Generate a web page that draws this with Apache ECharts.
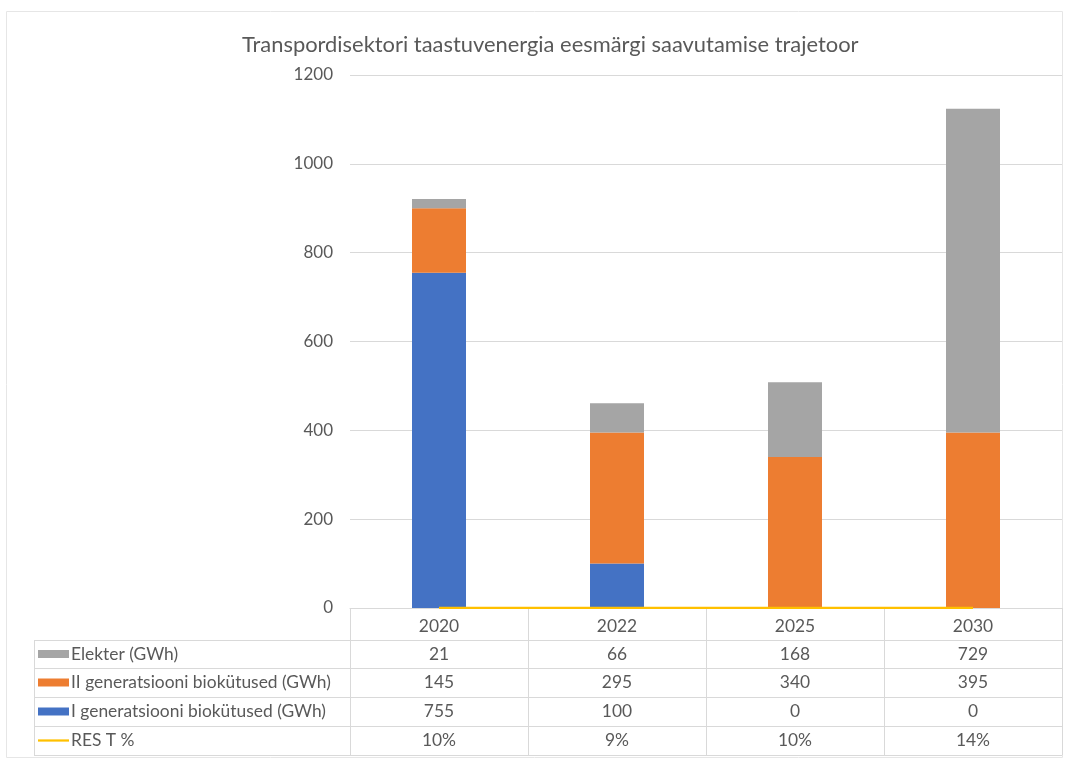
<!DOCTYPE html>
<html>
<head>
<meta charset="utf-8">
<script src="https://cdn.jsdelivr.net/npm/echarts@6/dist/echarts.min.js"></script>
<style>
  html, body { margin: 0; padding: 0; background: #fff; }
  #chart { width: 1065px; height: 759px; }
</style>
</head>
<body>
<div id="chart"></div>
<script>
const years = ['2020', '2022', '2025', '2030'];
const elekter = [21, 66, 168, 729];
const bioII = [145, 295, 340, 395];
const bioI = [755, 100, 0, 0];
const resT = [10, 9, 10, 14];   // percent
const yTicks = [0, 200, 400, 600, 800, 1000, 1200];

const FONT = 'Lato, "Liberation Sans", sans-serif';
const TXT = '#595959';
const LINE = '#D9D9D9';

const rows = [
  { name: 'Elekter (GWh)', color: '#A5A5A5', kind: 'bar', values: elekter, fmt: v => String(v) },
  { name: 'II generatsiooni biokütused (GWh)', color: '#ED7D31', kind: 'bar', values: bioII, fmt: v => String(v) },
  { name: 'I generatsiooni biokütused (GWh)', color: '#4472C4', kind: 'bar', values: bioI, fmt: v => String(v) },
  { name: 'RES T %', color: '#FFC000', kind: 'line', values: resT, fmt: v => v + '%' }
];

const gridLeft = 350, gridRight = 1062, gridTop = 75, gridBottom = 608;
const rowLines = [640, 668, 697, 726, 755];
const tableLeft = 34;
const FS = 17.4;

const chart = echarts.init(document.getElementById('chart'));

const option = {
  animation: false,
  title: {
    text: 'Transpordisektori taastuvenergia eesmärgi saavutamise trajetoor',
    left: 237,
    top: 29,
    textStyle: { fontFamily: FONT, fontSize: 21.9, fontWeight: 'normal', color: TXT }
  },
  grid: { left: gridLeft, right: 1065 - gridRight, top: gridTop, bottom: 759 - gridBottom },
  xAxis: {
    type: 'category',
    data: years,
    axisLine: { lineStyle: { color: LINE } },
    axisTick: { show: true, length: 755 - gridBottom, lineStyle: { color: LINE } },
    axisLabel: { fontFamily: FONT, fontSize: FS, color: TXT, margin: 10 }
  },
  yAxis: {
    type: 'value',
    min: yTicks[0],
    max: yTicks[yTicks.length - 1],
    interval: yTicks[1] - yTicks[0],
    axisLine: { show: false },
    axisTick: { show: false },
    splitLine: { lineStyle: { color: LINE } },
    axisLabel: { fontFamily: FONT, fontSize: 17, color: TXT, margin: 17, formatter: v => String(v) }
  },
  series: [
    { name: rows[2].name, type: 'bar', stack: 'a', data: bioI, barWidth: 54, itemStyle: { color: rows[2].color } },
    { name: rows[1].name, type: 'bar', stack: 'a', data: bioII, barWidth: 54, itemStyle: { color: rows[1].color } },
    { name: rows[0].name, type: 'bar', stack: 'a', data: elekter, barWidth: 54, itemStyle: { color: rows[0].color } },
    { name: rows[3].name, type: 'line', data: resT.map(v => v / 100), symbol: 'none',
      lineStyle: { color: rows[3].color, width: 2.25 }, z: 5 }
  ]
};
chart.setOption(option);

// data table below the plot
const graphic = [];
// outer chart border
graphic.push({ type: 'rect', shape: { x: 6.5, y: 11.5, width: 1056, height: 746 },
  style: { fill: 'none', stroke: '#E6E6E6', lineWidth: 1 }, silent: true });
rowLines.forEach(y => {
  graphic.push({ type: 'line', shape: { x1: tableLeft, y1: y + 0.5, x2: gridRight, y2: y + 0.5 },
    style: { stroke: LINE, lineWidth: 1 }, silent: true });
});
graphic.push({ type: 'line', shape: { x1: tableLeft + 0.5, y1: rowLines[0], x2: tableLeft + 0.5, y2: rowLines[rowLines.length - 1] },
  style: { stroke: LINE, lineWidth: 1 }, silent: true });

rows.forEach((r, ri) => {
  const yMid = (rowLines[ri] + rowLines[ri + 1]) / 2;
  if (r.kind === 'bar') {
    graphic.push({ type: 'rect', shape: { x: 38, y: yMid - 4, width: 31, height: 8 },
      style: { fill: r.color }, silent: true });
  } else {
    graphic.push({ type: 'line', shape: { x1: 38, y1: yMid, x2: 69, y2: yMid },
      style: { stroke: r.color, lineWidth: 2.25 }, silent: true });
  }
  graphic.push({ type: 'text', x: 71, y: yMid,
    style: { text: r.name, font: FS + 'px ' + FONT, fill: TXT, textVerticalAlign: 'middle', verticalAlign: 'middle' }, silent: true });
  r.values.forEach((v, ci) => {
    const cx = chart.convertToPixel({ xAxisIndex: 0 }, ci);
    graphic.push({ type: 'text', x: cx, y: yMid,
      style: { text: r.fmt(v), font: FS + 'px ' + FONT, fill: TXT, align: 'center', textAlign: 'center',
        verticalAlign: 'middle', textVerticalAlign: 'middle' }, silent: true });
  });
});

chart.setOption({ graphic: graphic });
</script>
</body>
</html>
